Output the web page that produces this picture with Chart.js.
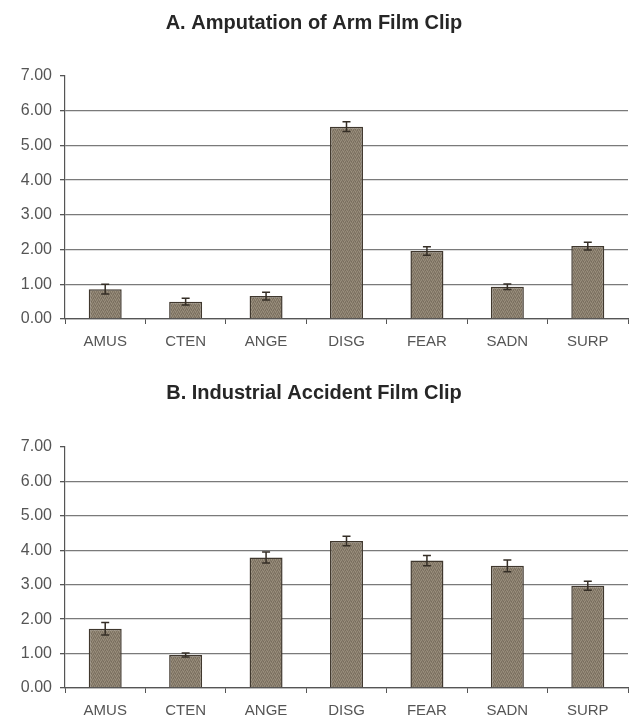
<!DOCTYPE html>
<html>
<head>
<meta charset="utf-8">
<script src="https://cdn.jsdelivr.net/npm/chart.js@4.4.1/dist/chart.umd.min.js"></script>
<style>
  html, body { margin: 0; padding: 0; background: #fff; }
  .wrap { position: absolute; left: 0; width: 631px; }
  #boxA { top: 0; height: 360px; }
  #boxB { top: 360px; height: 359px; }
</style>
</head>
<body>
<div class="wrap" id="boxA"><canvas id="chartA"></canvas></div>
<div class="wrap" id="boxB"><canvas id="chartB"></canvas></div>
<script>
// Emotion categories
const categories = ['AMUS', 'CTEN', 'ANGE', 'DISG', 'FEAR', 'SADN', 'SURP'];

// A. Amputation of arm clip: means and error
const amputationMeans = [0.86, 0.50, 0.66, 5.54, 1.96, 0.93, 2.10];
const amputationErrors = [0.14, 0.10, 0.11, 0.14, 0.12, 0.08, 0.11];

// B. Industrial accident clip: means and error
const accidentMeans = [1.72, 0.96, 3.79, 4.27, 3.70, 3.55, 2.97];
const accidentErrors = [0.18, 0.06, 0.16, 0.14, 0.15, 0.17, 0.13];

const yMin = 0;
const yMax = 7;
const yStep = 1;

const barEdge = '#40382e';

// small fixed speckle tile so the bars look like the printed texture
function barTexture() {
    const shades = [
        '#857a69', '#968b7a', '#7c7161', '#8f8473',
        '#9a8f7e', '#807564', '#8b8070', '#776c5c',
        '#8d8271', '#786d5d', '#988d7c', '#847968',
        '#7f7463', '#928776', '#827766', '#9c917f'
    ];
    const c = document.createElement('canvas');
    c.width = 4;
    c.height = 4;
    const g = c.getContext('2d');
    shades.forEach((s, i) => {
        g.fillStyle = s;
        g.fillRect(i % 4, Math.floor(i / 4), 1, 1);
    });
    return g.createPattern(c, 'repeat');
}

// draws the error bars (up and down) on top of each bar
const errorBars = {
    id: 'errorBars',
    afterDatasetsDraw(chart) {
        const ctx = chart.ctx;
        const yScale = chart.scales.y;
        chart.data.datasets.forEach((ds, i) => {
            const meta = chart.getDatasetMeta(i);
            meta.data.forEach((bar, j) => {
                const v = ds.data[j];
                const e = ds.errors[j];
                const top = yScale.getPixelForValue(v + e);
                const bot = yScale.getPixelForValue(v - e);
                ctx.save();
                ctx.strokeStyle = '#352e26';
                ctx.lineWidth = 1.5;
                ctx.beginPath();
                ctx.moveTo(bar.x, top);
                ctx.lineTo(bar.x, bot);
                ctx.moveTo(bar.x - 4, top);
                ctx.lineTo(bar.x + 4, top);
                ctx.moveTo(bar.x - 4, bot);
                ctx.lineTo(bar.x + 4, bot);
                ctx.stroke();
                ctx.restore();
            });
        });
    }
};

function makeChart(id, title, means, errors, titlePad, xHeight) {
    const ctx = document.getElementById(id).getContext('2d');
    return new Chart(ctx, {
        type: 'bar',
        data: {
            labels: categories,
            datasets: [{
                data: means,
                errors: errors,
                backgroundColor: barTexture(),
                borderColor: barEdge,
                borderWidth: 1.5,
                barPercentage: 0.41,
                categoryPercentage: 1.0
            }]
        },
        plugins: [errorBars],
        options: {
            responsive: true,
            maintainAspectRatio: false,
            animation: false,
            layout: { padding: { left: 0, right: 3, top: 0, bottom: 0 } },
            plugins: {
                legend: { display: false },
                tooltip: { enabled: false },
                title: {
                    display: true,
                    text: title,
                    color: '#262626',
                    font: { family: 'Liberation Sans, Arial, sans-serif', size: 20, weight: 'bold' },
                    padding: titlePad
                }
            },
            scales: {
                x: {
                    afterFit: s => { s.height = xHeight; },
                    grid: {
                        display: true,
                        drawOnChartArea: false,
                        drawTicks: true,
                        tickLength: 5,
                        tickColor: '#555'
                    },
                    border: { display: true, color: '#555', width: 1.2 },
                    ticks: {
                        color: '#555',
                        padding: 9,
                        font: { family: 'Liberation Sans, Arial, sans-serif', size: 15 }
                    }
                },
                y: {
                    min: yMin,
                    max: yMax,
                    afterFit: s => { s.width = 65; },
                    grid: {
                        color: c => (c.tick && c.tick.value === yMax) ? 'rgba(0,0,0,0)' : '#7a7a7a',
                        lineWidth: 1.3,
                        drawTicks: true,
                        tickLength: 5,
                        tickColor: '#555'
                    },
                    border: { display: true, color: '#555', width: 1.2 },
                    ticks: {
                        stepSize: yStep,
                        color: '#555',
                        padding: 8,
                        callback: v => Number(v).toFixed(2),
                        font: { family: 'Liberation Sans, Arial, sans-serif', size: 16 }
                    }
                }
            }
        }
    });
}

makeChart('chartA', 'A. Amputation of Arm Film Clip', amputationMeans, amputationErrors,
    { top: 11, bottom: 41 }, 41);
makeChart('chartB', 'B. Industrial Accident Film Clip', accidentMeans, accidentErrors,
    { top: 21, bottom: 42 }, 31);
</script>
</body>
</html>
